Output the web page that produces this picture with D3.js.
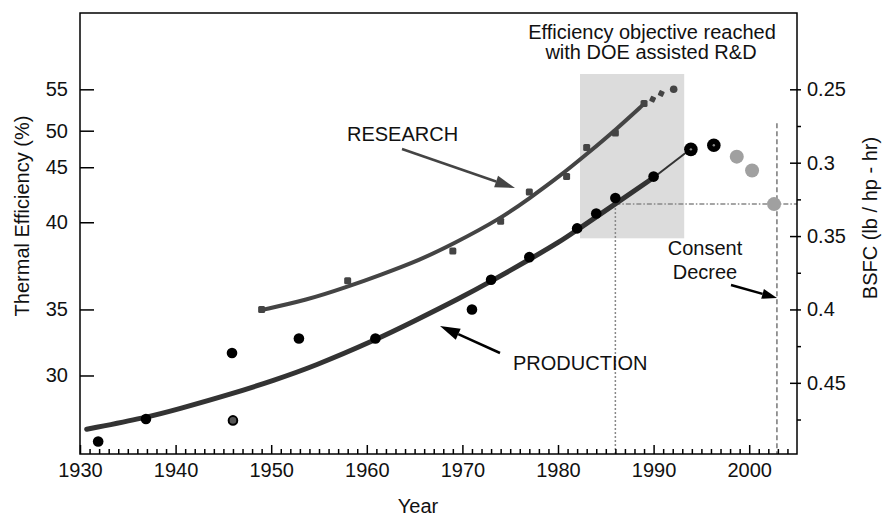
<!DOCTYPE html>
<meta charset='utf-8'>
<style>
    body { margin: 0; background: #fff; }
    text {
        font-family: "Liberation Sans", Arial, Helvetica, sans-serif;
        font-size: 20px;
        fill: #111;
    }
    .axis path.domain { display: none; }
    .axis line { stroke: #000; stroke-width: 1.5; }
    .frame { fill: none; stroke: #000; stroke-width: 1.5; }
</style>

<svg width="883" height="518"></svg>
<script src="https://d3js.org/d3.v7.min.js"></script>

<script>

// ---- data ----
var yearTicks = [1930, 1940, 1950, 1960, 1970, 1980, 1990, 2000];
var effTicks = [30, 35, 40, 45, 50, 55];
// where each efficiency tick sits on the BSFC scale in the original figure
var effAsBsfc = [0.445, 0.40, 0.3406, 0.3031, 0.2782, 0.25];
var bsfcTicks = [0.25, 0.3, 0.35, 0.4, 0.45];
var bsfcMinor = [0.275, 0.325, 0.375, 0.425, 0.475];

// production engines (black dots)
var prodYears = [1931.9, 1936.9, 1945.9, 1952.9, 1960.9, 1971.0, 1973.0, 1977.0, 1982.0, 1984.0, 1986.0, 1990.0];
var prodEff   = [25.0, 26.7, 31.7, 32.8, 32.8, 35.0, 36.7, 38.0, 39.65, 40.8, 42.2, 44.15];
var ringYears = [1946.0];
var ringEff   = [26.6];
var bigYears  = [1993.9, 1996.3];
var bigEff    = [47.45, 48.0];
var projYears = [1998.7, 2000.3, 2002.6];
var projEff   = [46.45, 44.7, 41.65];

// research engines (grey squares)
var resYears = [1949.0, 1958.0, 1969.0, 1974.0, 1977.0, 1980.9, 1983.0, 1986.0, 1989.0];
var resEff   = [35.0, 36.65, 38.35, 40.1, 42.75, 44.15, 47.7, 49.7, 53.3];
var trailYears = [1989.9, 1990.8, 1992.1];
var trailEff   = [53.8, 54.5, 55.0];

// trend curves
var prodFitYears = [1930.7, 1936.97, 1940.15, 1946.07, 1950.22, 1954.4, 1960.93, 1964.86, 1969.75, 1972.96, 1977.0, 1980.21, 1981.99, 1985.99, 1990.04];
var prodFitEff   = [25.93, 26.82, 27.43, 28.65, 29.62, 30.67, 32.69, 34.08, 35.65, 36.6, 37.86, 38.89, 39.56, 41.66, 44.09];
var prodTailYears = [1990.04, 1993.85];
var prodTailEff   = [44.09, 47.46];
var resFitYears = [1948.93, 1953.74, 1957.93, 1961.38, 1965.56, 1969.02, 1973.93, 1977.07, 1980.21, 1983.03, 1986.07, 1989.1];
var resFitEff   = [34.95, 35.54, 36.29, 36.97, 37.84, 38.75, 40.3, 42.21, 44.21, 46.82, 50.14, 53.35];

// shaded "objective" box and reference lines
var boxYears = [1982.3, 1993.2];
var boxEff   = [39.08, 56.85];
var markYear = 1986.0, markEff = 41.65;
var decreeYear = 2002.9, decreeTopEff = 50.9;

// ---- layout ----
var svg = d3.select('svg');
var pL = 80, pR = 797, pT = 13, pB = 454;

var x = d3.scaleLinear().domain([1930, 2005]).range([pL, pR]);
var yB = d3.scaleLinear().domain([0.198, 0.4985]).range([pT, pB]);
var yE = d3.scaleLinear().domain(effTicks).range(effAsBsfc.map(yB));

function zip(a, b) { return a.map(function(v, i) { return [v, b[i]]; }); }

// objective box
svg.append('rect')
    .attr('x', x(boxYears[0]))
    .attr('y', yE(boxEff[1]))
    .attr('width', x(boxYears[1]) - x(boxYears[0]))
    .attr('height', yE(boxEff[0]) - yE(boxEff[1]))
    .attr('fill', '#dcdcdc');

// reference lines
svg.append('line')
    .attr('x1', x(markYear)).attr('x2', x(markYear))
    .attr('y1', yE(markEff)).attr('y2', pB)
    .attr('stroke', '#888').attr('stroke-width', 1.5)
    .attr('stroke-dasharray', '2,2');
svg.append('line')
    .attr('x1', x(markYear)).attr('x2', pR)
    .attr('y1', yE(markEff)).attr('y2', yE(markEff))
    .attr('stroke', '#888').attr('stroke-width', 1.5)
    .attr('stroke-dasharray', '5,2,1.5,2');
svg.append('line')
    .attr('x1', x(decreeYear)).attr('x2', x(decreeYear))
    .attr('y1', yE(decreeTopEff)).attr('y2', pB)
    .attr('stroke', '#777').attr('stroke-width', 1.5)
    .attr('stroke-dasharray', '5,3');

// axes
svg.append('g').attr('class', 'axis')
    .attr('transform', 'translate(0,' + pB + ')')
    .call(d3.axisBottom(x).tickValues(yearTicks).tickFormat(d3.format('d'))
        .tickSizeInner(-9).tickSizeOuter(0).tickPadding(9));

svg.append('g').attr('class', 'axis')
    .attr('transform', 'translate(0,' + pB + ')')
    .call(d3.axisBottom(x)
        .tickValues(d3.range(1931, 2005).filter(function(d) { return d % 10; }))
        .tickFormat('').tickSizeInner(-5).tickSizeOuter(0));

svg.append('g').attr('class', 'axis')
    .attr('transform', 'translate(' + pL + ',0)')
    .call(d3.axisLeft(yE).tickValues(effTicks)
        .tickSizeInner(-14).tickSizeOuter(0).tickPadding(12));

svg.append('g').attr('class', 'axis')
    .attr('transform', 'translate(' + pR + ',0)')
    .call(d3.axisRight(yB).tickValues(bsfcTicks).tickFormat(function(d) { return d; })
        .tickSizeInner(4).tickSizeOuter(0).tickPadding(6));
svg.append('g').attr('class', 'axis')
    .attr('transform', 'translate(' + pR + ',0)')
    .call(d3.axisRight(yB).tickValues(bsfcTicks).tickFormat('')
        .tickSizeInner(-7).tickSizeOuter(0));
svg.append('g').attr('class', 'axis')
    .attr('transform', 'translate(' + pR + ',0)')
    .call(d3.axisRight(yB).tickValues(bsfcMinor).tickFormat('')
        .tickSizeInner(4).tickSizeOuter(0));

svg.selectAll('.axis .tick text')
    .style('font-size', '20px')
    .style('font-family', '"Liberation Sans", Arial, Helvetica, sans-serif')
    .attr('fill', '#111');

svg.append('rect').attr('class', 'frame')
    .attr('x', pL).attr('y', pT)
    .attr('width', pR - pL).attr('height', pB - pT);

// axis titles
svg.append('text')
    .attr('transform', 'translate(29,216) rotate(-90)')
    .attr('text-anchor', 'middle')
    .text('Thermal Efficiency (%)');
svg.append('text')
    .attr('transform', 'translate(877,218) rotate(-90)')
    .attr('text-anchor', 'middle')
    .text('BSFC (lb / hp - hr)');
svg.append('text')
    .attr('x', 418).attr('y', 513)
    .attr('text-anchor', 'middle')
    .text('Year');

// trend curves
var line = d3.line()
    .x(function(d) { return x(d[0]); })
    .y(function(d) { return yE(d[1]); })
    .curve(d3.curveBasis);

svg.append('path')
    .attr('d', line(zip(resFitYears, resFitEff)))
    .attr('fill', 'none').attr('stroke', '#444')
    .attr('stroke-width', 4).attr('stroke-linecap', 'round');
svg.append('path')
    .attr('d', line(zip(prodFitYears, prodFitEff)))
    .attr('fill', 'none').attr('stroke', '#333')
    .attr('stroke-width', 5).attr('stroke-linecap', 'round');
svg.append('path')
    .attr('d', line(zip(prodTailYears, prodTailEff)))
    .attr('fill', 'none').attr('stroke', '#333')
    .attr('stroke-width', 2);

// research squares
svg.selectAll('.res')
    .data(zip(resYears, resEff))
    .enter().append('rect')
    .attr('class', 'res')
    .attr('x', function(d) { return x(d[0]) - 3.5; })
    .attr('y', function(d) { return yE(d[1]) - 3.5; })
    .attr('width', 7).attr('height', 7).attr('rx', 1.5)
    .attr('fill', '#444');
svg.selectAll('.trail')
    .data(zip(trailYears, trailEff))
    .enter().append('rect')
    .attr('class', 'trail')
    .attr('x', function(d, i) { return i < 2 ? -2.8 : -3.8; })
    .attr('y', function(d, i) { return i < 2 ? -2.8 : -3.8; })
    .attr('width', function(d, i) { return i < 2 ? 5.6 : 7.6; })
    .attr('height', function(d, i) { return i < 2 ? 5.6 : 7.6; })
    .attr('rx', function(d, i) { return i < 2 ? 1 : 3.8; })
    .attr('fill', '#444')
    .attr('transform', function(d, i) {
        return 'translate(' + x(d[0]) + ',' + yE(d[1]) + ') rotate(' + (i < 2 ? 25 : 0) + ')';
    });

// production dots
svg.selectAll('.prod')
    .data(zip(prodYears, prodEff))
    .enter().append('circle')
    .attr('class', 'prod')
    .attr('cx', function(d) { return x(d[0]); })
    .attr('cy', function(d) { return yE(d[1]); })
    .attr('r', 5.3)
    .attr('fill', '#000');
svg.selectAll('.ring')
    .data(zip(ringYears, ringEff))
    .enter().append('circle')
    .attr('cx', function(d) { return x(d[0]); })
    .attr('cy', function(d) { return yE(d[1]); })
    .attr('r', 4.3)
    .attr('fill', '#555').attr('stroke', '#000').attr('stroke-width', 2);
svg.selectAll('.big')
    .data(zip(bigYears, bigEff))
    .enter().append('circle')
    .attr('cx', function(d) { return x(d[0]); })
    .attr('cy', function(d) { return yE(d[1]); })
    .attr('r', 6.8)
    .attr('fill', '#000');
svg.selectAll('.bigdot')
    .data(zip(bigYears, bigEff))
    .enter().append('circle')
    .attr('cx', function(d) { return x(d[0]); })
    .attr('cy', function(d) { return yE(d[1]); })
    .attr('r', 1.2)
    .attr('fill', '#888');
svg.selectAll('.proj')
    .data(zip(projYears, projEff))
    .enter().append('circle')
    .attr('cx', function(d) { return x(d[0]); })
    .attr('cy', function(d) { return yE(d[1]); })
    .attr('r', 7)
    .attr('fill', '#a0a0a0');

// annotations
function arrow(x1, y1, x2, y2, color, len, half) {
    var a = Math.atan2(y2 - y1, x2 - x1);
    var bx = x2 - len * Math.cos(a), by = y2 - len * Math.sin(a);
    svg.append('line')
        .attr('x1', x1).attr('y1', y1).attr('x2', bx).attr('y2', by)
        .attr('stroke', color).attr('stroke-width', 2.5);
    svg.append('path')
        .attr('d', 'M' + x2 + ',' + y2 +
            'L' + (bx + half * Math.sin(a)) + ',' + (by - half * Math.cos(a)) +
            'L' + (bx - half * Math.sin(a)) + ',' + (by + half * Math.cos(a)) + 'Z')
        .attr('fill', color);
}

svg.append('text').attr('x', 347).attr('y', 141).text('RESEARCH');
arrow(402, 149, 515, 188, '#444', 20, 6);

svg.append('text').attr('x', 513).attr('y', 370).text('PRODUCTION');
arrow(500, 353, 440, 326, '#000', 20, 6);

svg.append('text').attr('x', 705).attr('y', 255).attr('text-anchor', 'middle').text('Consent');
svg.append('text').attr('x', 705).attr('y', 279).attr('text-anchor', 'middle').text('Decree');
arrow(731, 285, 777, 298, '#000', 15, 5);

svg.append('text').attr('x', 652).attr('y', 39).attr('text-anchor', 'middle')
    .text('Efficiency objective reached');
svg.append('text').attr('x', 651).attr('y', 59).attr('text-anchor', 'middle')
    .text('with DOE assisted R&D');

</script>
